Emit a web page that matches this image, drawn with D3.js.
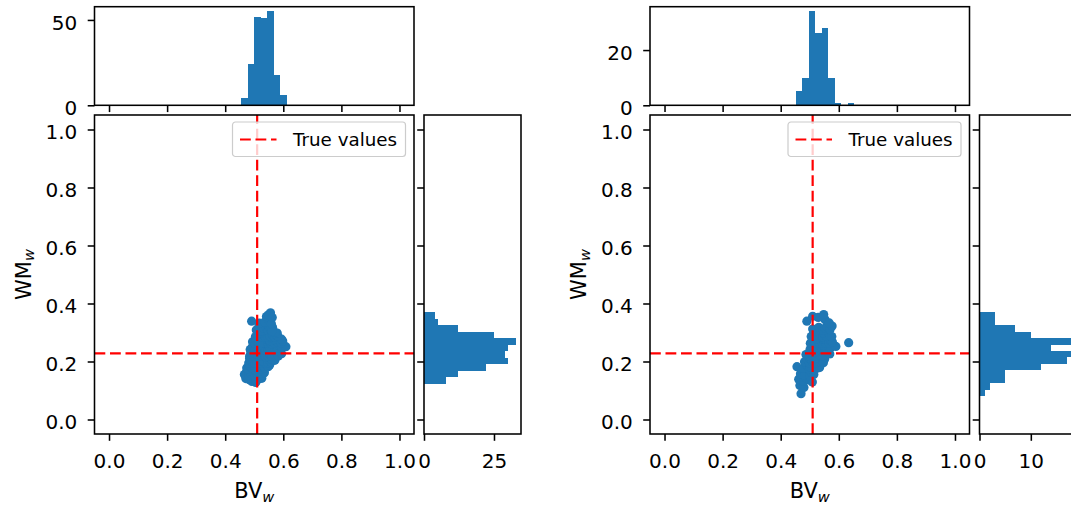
<!DOCTYPE html>
<html>
<head>
<meta charset="utf-8">
<script src="https://cdn.jsdelivr.net/npm/d3@7"></script>
<style>
  body { margin: 0; background: #fff; }
  svg text { font-family: "DejaVu Sans", sans-serif; fill: #000; }
</style>
</head>
<body>
<svg id="chart" width="1071" height="509"></svg>
<script>
// Posterior samples (BV_w, WM_w), first run
const samplesA = [
  [0.471,0.141],[0.483,0.137],[0.492,0.131],[0.488,0.143],[0.505,0.128],[0.513,0.139],[0.508,0.134],[0.526,0.142],
  [0.466,0.155],[0.473,0.163],[0.481,0.151],[0.489,0.158],[0.495,0.165],[0.485,0.166],[0.503,0.150],[0.511,0.157],[0.517,0.163],[0.507,0.166],[0.528,0.154],[0.535,0.161],
  [0.474,0.178],[0.480,0.173],[0.487,0.181],[0.494,0.176],[0.490,0.187],[0.483,0.186],[0.503,0.172],[0.509,0.179],[0.515,0.174],[0.519,0.184],[0.506,0.186],[0.512,0.188],[0.517,0.177],[0.501,0.181],[0.525,0.173],[0.531,0.180],[0.537,0.176],[0.541,0.186],[0.528,0.188],[0.534,0.184],[0.548,0.182],[0.553,0.188],
  [0.481,0.195],[0.487,0.203],[0.494,0.198],[0.490,0.209],[0.484,0.210],[0.502,0.194],[0.507,0.201],[0.513,0.196],[0.518,0.204],[0.504,0.209],[0.510,0.207],[0.516,0.211],[0.509,0.193],[0.519,0.199],[0.524,0.195],[0.529,0.202],[0.535,0.197],[0.540,0.205],[0.526,0.210],[0.532,0.208],[0.538,0.211],[0.541,0.194],[0.533,0.200],[0.547,0.196],[0.552,0.203],[0.558,0.199],[0.549,0.209],[0.555,0.211],[0.561,0.206],[0.571,0.204],
  [0.484,0.218],[0.491,0.226],[0.488,0.233],[0.502,0.217],[0.508,0.224],[0.514,0.219],[0.519,0.229],[0.505,0.232],[0.511,0.234],[0.517,0.222],[0.503,0.227],[0.525,0.218],[0.531,0.225],[0.537,0.220],[0.541,0.231],[0.527,0.233],[0.534,0.229],[0.539,0.216],[0.547,0.219],[0.552,0.226],[0.558,0.221],[0.563,0.230],[0.549,0.233],[0.556,0.234],[0.561,0.217],[0.571,0.222],[0.578,0.229],[0.583,0.219],[0.594,0.227],
  [0.486,0.241],[0.493,0.250],[0.502,0.239],[0.508,0.246],[0.514,0.241],[0.519,0.252],[0.505,0.255],[0.511,0.253],[0.517,0.244],[0.525,0.240],[0.531,0.247],[0.537,0.242],[0.541,0.253],[0.527,0.256],[0.534,0.250],[0.539,0.238],[0.547,0.241],[0.552,0.248],[0.558,0.243],[0.563,0.252],[0.549,0.255],[0.556,0.256],[0.561,0.239],[0.554,0.245],[0.570,0.243],[0.576,0.250],[0.582,0.245],[0.586,0.254],[0.596,0.248],[0.609,0.251],
  [0.494,0.268],[0.503,0.262],[0.509,0.270],[0.515,0.265],[0.519,0.276],[0.506,0.278],[0.512,0.273],[0.525,0.262],[0.530,0.269],[0.536,0.264],[0.541,0.275],[0.527,0.278],[0.533,0.273],[0.539,0.279],[0.529,0.265],[0.547,0.262],[0.551,0.269],[0.557,0.264],[0.562,0.274],[0.549,0.278],[0.555,0.276],[0.560,0.261],[0.564,0.268],[0.553,0.272],[0.558,0.279],[0.570,0.263],[0.575,0.270],[0.581,0.266],[0.585,0.275],[0.572,0.278],[0.593,0.264],[0.598,0.271],[0.594,0.277],
  [0.504,0.285],[0.510,0.292],[0.516,0.288],[0.513,0.299],[0.525,0.284],[0.531,0.291],[0.537,0.286],[0.541,0.296],[0.528,0.299],[0.535,0.300],[0.547,0.284],[0.552,0.291],[0.558,0.286],[0.563,0.295],[0.549,0.299],[0.556,0.301],[0.561,0.283],[0.554,0.288],[0.560,0.297],[0.565,0.290],[0.570,0.285],[0.575,0.292],[0.581,0.288],[0.579,0.298],[0.572,0.300],
  [0.507,0.309],[0.515,0.317],[0.527,0.306],[0.534,0.314],[0.540,0.320],[0.547,0.307],[0.552,0.314],[0.558,0.309],[0.563,0.318],[0.550,0.322],[0.556,0.320],[0.561,0.305],
  [0.491,0.339],[0.517,0.332],[0.536,0.336],[0.551,0.341],[0.559,0.330],
  [0.542,0.355],[0.549,0.361],[0.556,0.368],[0.562,0.352]
];

// Posterior samples (BV_w, WM_w), second run
const samplesB = [
  [0.470,0.089],
  [0.466,0.117],[0.480,0.110],
  [0.462,0.139],[0.479,0.131],[0.488,0.143],[0.501,0.135],[0.509,0.129],
  [0.468,0.158],[0.483,0.152],[0.500,0.149],[0.506,0.162],[0.514,0.155],
  [0.456,0.182],[0.478,0.176],[0.490,0.187],[0.499,0.173],[0.503,0.184],[0.508,0.178],[0.512,0.188],[0.515,0.172],[0.501,0.180],[0.523,0.176],[0.529,0.185],[0.534,0.179],
  [0.482,0.199],[0.491,0.208],[0.499,0.195],[0.504,0.203],[0.509,0.198],[0.513,0.209],[0.501,0.211],[0.507,0.206],[0.516,0.200],[0.522,0.196],[0.527,0.204],[0.533,0.199],[0.537,0.210],[0.525,0.211],[0.545,0.201],[0.551,0.208],[0.547,0.196],
  [0.487,0.224],[0.500,0.218],[0.505,0.226],[0.511,0.221],[0.515,0.232],[0.502,0.233],[0.508,0.230],[0.522,0.219],[0.528,0.227],[0.534,0.222],[0.538,0.232],[0.525,0.233],[0.544,0.220],[0.549,0.228],[0.555,0.223],[0.559,0.232],[0.546,0.234],[0.569,0.226],
  [0.501,0.241],[0.507,0.249],[0.513,0.244],[0.523,0.240],[0.529,0.248],[0.535,0.243],[0.537,0.254],[0.544,0.241],[0.550,0.249],[0.556,0.244],[0.560,0.254],[0.547,0.255],[0.572,0.247],[0.590,0.252],
  [0.502,0.263],[0.508,0.271],[0.514,0.266],[0.522,0.262],[0.528,0.270],[0.534,0.265],[0.538,0.275],[0.525,0.277],[0.544,0.263],[0.549,0.270],[0.555,0.265],[0.559,0.275],[0.546,0.278],[0.553,0.277],[0.567,0.264],[0.573,0.271],[0.578,0.267],[0.634,0.265],
  [0.505,0.286],[0.512,0.295],[0.526,0.289],[0.535,0.297],[0.545,0.285],[0.551,0.293],[0.557,0.288],[0.548,0.299],[0.568,0.291],[0.576,0.286],
  [0.510,0.312],[0.531,0.318],[0.546,0.307],[0.553,0.315],[0.559,0.321],[0.570,0.310],[0.577,0.322],
  [0.490,0.339],[0.553,0.344],[0.567,0.333],
  [0.510,0.356],[0.529,0.352],[0.548,0.362]
];

// Histogram bin edges for the marginals
const bvEdgesA = [0.4545,0.4770,0.4995,0.5220,0.5445,0.5670,0.5895,0.6120];
const wmEdgesA = [0.1240,0.1464,0.1688,0.1912,0.2136,0.2360,0.2584,0.2808,0.3032,0.3256,0.3480,0.3704];
const bvEdgesB = [0.4517,0.4740,0.4963,0.5186,0.5409,0.5632,0.5855,0.6078,0.6301,0.6524];
const wmEdgesB = [0.0800,0.1023,0.1246,0.1469,0.1692,0.1915,0.2138,0.2362,0.2585,0.2808,0.3031,0.3254,0.3477,0.3700];

// Reference (true) parameter values
const trueBV = 0.51;
const trueWM = 0.228;

// Tick values
const unitTicks = [0, 0.2, 0.4, 0.6, 0.8, 1.0];
const topCountTicksA = [0, 50];
const sideCountTicksA = [0, 25];
const topCountTicksB = [0, 20];
const sideCountTicksB = [0, 10];

const BLUE = "#1f77b4";
const TICK_FONT = 20;
const LABEL_FONT = 21;
const LEGEND_FONT = 18.3;
const SPINE_W = 1.55;
const TICK_LEN = 6.8;
const DASH = "10.8,4.7";

const svg = d3.select("#chart");

function styleAxis(g, withLabels) {
  g.select(".domain").remove();
  g.selectAll(".tick line").attr("stroke", "#000").attr("stroke-width", SPINE_W);
  g.selectAll(".tick text").style("font-size", TICK_FONT + "px").attr("fill", "#000");
  if (!withLabels) g.selectAll(".tick text").remove();
}

function drawPanel(cfg) {
  const dx = cfg.dx;
  const L = 94.5 + dx, S = 319.5, T = 115, B = 434;
  const topT = 6.7, topB = 105.3;
  const sideL = L + S + 10, sideW = 97;

  const g = svg.append("g");

  const x = d3.scaleLinear([-0.05, 1.05], [L, L + S]);
  const y = d3.scaleLinear([-0.05, 1.05], [B, T]);

  const bvBins = d3.bin().domain([cfg.bvEdges[0], cfg.bvEdges[cfg.bvEdges.length - 1]])
    .thresholds(cfg.bvEdges.slice(1, -1))(cfg.samples.map(d => d[0]));
  const wmBins = d3.bin().domain([cfg.wmEdges[0], cfg.wmEdges[cfg.wmEdges.length - 1]])
    .thresholds(cfg.wmEdges.slice(1, -1))(cfg.samples.map(d => d[1]));

  // ---- top marginal histogram (BV_w)
  const topY = d3.scaleLinear([0, d3.max(bvBins, b => b.length) * 1.05], [topB, topT]);
  g.append("g").selectAll("rect").data(bvBins).join("rect")
    .attr("x", b => x(b.x0)).attr("width", b => x(b.x1) - x(b.x0))
    .attr("y", b => topY(b.length)).attr("height", b => topB - topY(b.length))
    .attr("fill", BLUE).attr("shape-rendering", "crispEdges");

  const topXAxis = g.append("g").attr("transform", `translate(0,${topB})`)
    .call(d3.axisBottom(x).tickValues(unitTicks).tickSize(TICK_LEN).tickFormat(""));
  styleAxis(topXAxis, false);
  const topYAxis = g.append("g").attr("transform", `translate(${L},0)`)
    .call(d3.axisLeft(topY).tickValues(cfg.topTicks).tickSize(TICK_LEN).tickFormat(d3.format("d")));
  styleAxis(topYAxis, true);
  topYAxis.selectAll(".tick text").attr("x", -17.2).attr("dy", 0).attr("y", 9.3);
  g.append("rect").attr("x", L).attr("y", topT).attr("width", S).attr("height", topB - topT)
    .attr("fill", "none").attr("stroke", "#000").attr("stroke-width", SPINE_W);

  // ---- side marginal histogram (WM_w)
  const sideX = d3.scaleLinear([0, d3.max(wmBins, b => b.length) * 1.05], [sideL, sideL + sideW]);
  g.append("g").selectAll("rect").data(wmBins).join("rect")
    .attr("x", sideL).attr("width", b => sideX(b.length) - sideL)
    .attr("y", b => y(b.x1)).attr("height", b => y(b.x0) - y(b.x1))
    .attr("fill", BLUE).attr("shape-rendering", "crispEdges");

  const sideXAxis = g.append("g").attr("transform", `translate(0,${B})`)
    .call(d3.axisBottom(sideX).tickValues(cfg.sideTicks).tickSize(TICK_LEN).tickFormat(d3.format("d")));
  styleAxis(sideXAxis, true);
  sideXAxis.selectAll(".tick text").attr("y", 34.3).attr("dy", 0);
  const sideYAxis = g.append("g").attr("transform", `translate(${sideL},0)`)
    .call(d3.axisLeft(y).tickValues(unitTicks).tickSize(TICK_LEN).tickFormat(""));
  styleAxis(sideYAxis, false);
  g.append("rect").attr("x", sideL).attr("y", T).attr("width", sideW).attr("height", B - T)
    .attr("fill", "none").attr("stroke", "#000").attr("stroke-width", SPINE_W);

  // ---- joint scatter
  const clipId = "clip" + cfg.id;
  g.append("clipPath").attr("id", clipId).append("rect")
    .attr("x", L).attr("y", T).attr("width", S).attr("height", B - T);
  const plot = g.append("g").attr("clip-path", `url(#${clipId})`);
  plot.selectAll("circle").data(cfg.samples).join("circle")
    .attr("cx", d => x(d[0])).attr("cy", d => y(d[1])).attr("r", 4.6)
    .attr("fill", BLUE);

  // true value markers
  plot.append("line").attr("x1", x(trueBV)).attr("x2", x(trueBV)).attr("y1", B).attr("y2", T)
    .attr("stroke", "red").attr("stroke-width", 2.2).attr("stroke-dasharray", DASH);
  plot.append("line").attr("x1", L).attr("x2", L + S).attr("y1", y(trueWM)).attr("y2", y(trueWM))
    .attr("stroke", "red").attr("stroke-width", 2.2).attr("stroke-dasharray", DASH);

  const xAxis = g.append("g").attr("transform", `translate(0,${B})`)
    .call(d3.axisBottom(x).tickValues(unitTicks).tickSize(TICK_LEN).tickFormat(d3.format(".1f")));
  styleAxis(xAxis, true);
  xAxis.selectAll(".tick text").attr("y", 34.3).attr("dy", 0);
  const yAxis = g.append("g").attr("transform", `translate(${L},0)`)
    .call(d3.axisLeft(y).tickValues(unitTicks).tickSize(TICK_LEN).tickFormat(d3.format(".1f")));
  styleAxis(yAxis, true);
  yAxis.selectAll(".tick text").attr("x", -17.2).attr("dy", 0).attr("y", 9.3);

  g.append("rect").attr("x", L).attr("y", T).attr("width", S).attr("height", B - T)
    .attr("fill", "none").attr("stroke", "#000").attr("stroke-width", SPINE_W);

  // legend
  const lg = g.append("g").attr("transform", `translate(${L + S - 181.5},122)`);
  lg.append("rect").attr("x", 0).attr("y", 0).attr("width", 173).attr("height", 34.5)
    .attr("rx", 3).attr("fill", "#fff").attr("fill-opacity", 0.8)
    .attr("stroke", "#cccccc").attr("stroke-width", 1.2);
  lg.append("line").attr("x1", 7.5).attr("x2", 44).attr("y1", 17.5).attr("y2", 17.5)
    .attr("stroke", "red").attr("stroke-width", 2.2).attr("stroke-dasharray", DASH);
  lg.append("text").attr("x", 60.5).attr("y", 24).style("font-size", LEGEND_FONT + "px")
    .text("True values");

  // axis labels
  const xl = g.append("text").attr("x", L + S / 2).attr("y", 498.3)
    .attr("text-anchor", "middle").style("font-size", LABEL_FONT + "px");
  xl.append("tspan").text("BV");
  xl.append("tspan").attr("font-style", "italic").style("font-size", (LABEL_FONT * 0.7) + "px")
    .attr("dy", 3.5).text("w");

  const yl = g.append("text").attr("transform", `translate(${dx + 30.5},${(T + B) / 2}) rotate(-90)`)
    .attr("text-anchor", "middle").style("font-size", LABEL_FONT + "px");
  yl.append("tspan").text("WM");
  yl.append("tspan").attr("font-style", "italic").style("font-size", (LABEL_FONT * 0.7) + "px")
    .attr("dy", 3.5).text("w");
}

drawPanel({ id: "A", dx: 0, samples: samplesA, bvEdges: bvEdgesA, wmEdges: wmEdgesA,
            topTicks: topCountTicksA, sideTicks: sideCountTicksA });
drawPanel({ id: "B", dx: 555.5, samples: samplesB, bvEdges: bvEdgesB, wmEdges: wmEdgesB,
            topTicks: topCountTicksB, sideTicks: sideCountTicksB });
</script>
</body>
</html>
